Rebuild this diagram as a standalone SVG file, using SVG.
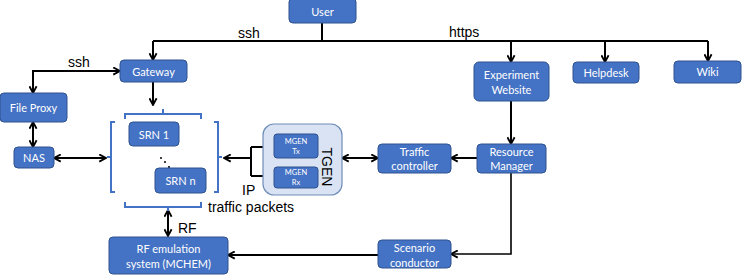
<svg xmlns="http://www.w3.org/2000/svg" width="742" height="277" viewBox="0 0 742 277">
  <defs>
    <marker id="arrow" viewBox="0 0 10 10" refX="9" refY="5" markerWidth="9" markerHeight="9" markerUnits="userSpaceOnUse" orient="auto-start-reverse">
      <path d="M1.5,1 L9,5 L1.5,9" fill="none" stroke="#000" stroke-width="2"/>
    </marker>
    <style>
      .box { fill: #4472C4; stroke: #2F528F; stroke-width: 1; }
      .sub { fill: #4472C4; stroke: #2F528F; stroke-width: 1; }
      .tgen { fill: #DAE3F3; stroke: #6F8DB9; stroke-width: 1.2; }
      .lbl { font-family: Lato, "Open Sans", sans-serif; font-size: 11px; fill: #fff; text-anchor: middle; dominant-baseline: central; }
      .small { font-family: Lato, "Open Sans", sans-serif; font-size: 7.5px; fill: #fff; text-anchor: middle; dominant-baseline: central; }
      .note { font-family: "Liberation Sans", Arial, sans-serif; font-size: 14px; fill: #000; }
      .wire { fill: none; stroke: #000; stroke-width: 2; }
      .thin { fill: none; stroke: #000; stroke-width: 1.6; }
      .brk { fill: none; stroke: #4472C4; stroke-width: 2; }
    </style>
  </defs>

  <!-- connectors -->
  <g id="connectors">
    <path class="wire" d="M322,23 V41"/>
    <path class="wire" d="M153,41 H708"/>
    <path class="wire" d="M153,41 V60" marker-end="url(#arrow)"/>
    <path class="wire" d="M511,41 V62" marker-end="url(#arrow)"/>
    <path class="wire" d="M605,41 V62" marker-end="url(#arrow)"/>
    <path class="wire" d="M708,41 V61" marker-end="url(#arrow)"/>
    <path class="wire" d="M120,71 H33 V93" marker-start="url(#arrow)" marker-end="url(#arrow)"/>
    <path class="wire" d="M153,82 V105" marker-end="url(#arrow)"/>
    <path class="wire" d="M33,122 V147" marker-start="url(#arrow)" marker-end="url(#arrow)"/>
    <path class="wire" d="M54,158 H106" marker-start="url(#arrow)" marker-end="url(#arrow)"/>
    <path class="wire" d="M251,158 H224" marker-end="url(#arrow)"/>
    <path class="wire" d="M251,147 V176"/>
    <path class="wire" d="M251,147 H274" marker-end="url(#arrow)"/>
    <path class="wire" d="M251,176 H274" marker-end="url(#arrow)"/>
    <path class="wire" d="M342,158 H378" marker-start="url(#arrow)" marker-end="url(#arrow)"/>
    <path class="wire" d="M477,158 H451" marker-end="url(#arrow)"/>
    <path class="wire" d="M511,101 V144" marker-end="url(#arrow)"/>
    <path class="thin" d="M511,173 V254 H451" marker-end="url(#arrow)"/>
    <path class="wire" d="M378,255 H228" marker-end="url(#arrow)"/>
    <path class="wire" d="M168,210 V236" marker-start="url(#arrow)" marker-end="url(#arrow)"/>
  </g>

  <!-- connector labels -->
  <g id="labels">
    <text class="note" x="238" y="38">ssh</text>
    <text class="note" x="449" y="37">https</text>
    <text class="note" x="68" y="67">ssh</text>
    <text class="note" x="242" y="195">IP</text>
    <text class="note" x="208" y="212" font-size="13.5">traffic packets</text>
    <text class="note" x="178" y="233">RF</text>
  </g>

  <g id="user">
    <rect class="box" x="289" y="-2" width="67" height="25" rx="4"/>
    <text class="lbl" x="322.5" y="11">User</text>
  </g>

  <g id="gateway">
    <rect class="box" x="120" y="60" width="67" height="22" rx="4"/>
    <text class="lbl" x="153.5" y="71">Gateway</text>
  </g>

  <g id="file-proxy">
    <rect class="box" x="0" y="93" width="67" height="29" rx="4"/>
    <text class="lbl" x="33.5" y="107.5">File Proxy</text>
  </g>

  <g id="nas">
    <rect class="box" x="14" y="147" width="40" height="21" rx="4"/>
    <text class="lbl" x="34" y="157.5">NAS</text>
  </g>

  <!-- SRN cluster with bracket outline -->
  <g id="srn-cluster">
    <path class="brk" d="M125,119 V114 H201 V119 M163,114 V109"/>
    <path class="brk" d="M115,122 H111 V192 H115 M111,157 H107"/>
    <path class="brk" d="M214,122 H218 V192 H214 M218,157 H222"/>
    <path class="brk" d="M125,202 V207 H201 V202 M168,207 V211"/>
    <circle cx="161" cy="158" r="1" fill="#000"/>
    <circle cx="165" cy="162" r="1" fill="#000"/>
    <circle cx="169" cy="167" r="1.1" fill="#000"/>
  </g>

  <g id="srn-1">
    <rect class="box" x="129" y="122" width="50" height="24" rx="4"/>
    <text class="lbl" x="154" y="134">SRN 1</text>
  </g>

  <g id="srn-n">
    <rect class="box" x="155" y="168" width="51" height="25" rx="4"/>
    <text class="lbl" x="180.5" y="180.5">SRN n</text>
  </g>

  <g id="tgen">
    <rect class="tgen" x="263" y="124" width="79" height="71" rx="11"/>
    <text font-family="'Liberation Sans', Arial, sans-serif" font-size="14" fill="#000" text-anchor="middle" dominant-baseline="central" transform="translate(327,167) rotate(90)">TGEN</text>
  </g>

  <g id="mgen-tx">
    <rect class="sub" x="274" y="134" width="44" height="24" rx="3"/>
    <text class="small" x="296" y="141">MGEN</text>
    <text class="small" x="296" y="151" font-size="6.5">Tx</text>
  </g>

  <g id="mgen-rx">
    <rect class="sub" x="274" y="167" width="44" height="21" rx="3"/>
    <text class="small" x="296" y="172.5">MGEN</text>
    <text class="small" x="296" y="182" font-size="6.5">Rx</text>
  </g>

  <g id="traffic-controller">
    <rect class="box" x="378" y="144" width="73" height="29" rx="4"/>
    <text class="lbl" x="414.5" y="151.5">Traffic</text>
    <text class="lbl" x="414.5" y="165.5">controller</text>
  </g>

  <g id="resource-manager">
    <rect class="box" x="477" y="144" width="69" height="29" rx="4"/>
    <text class="lbl" x="511.5" y="151.5">Resource</text>
    <text class="lbl" x="511.5" y="165.5">Manager</text>
  </g>

  <g id="scenario-conductor">
    <rect class="box" x="378" y="240" width="73" height="28" rx="4"/>
    <text class="lbl" x="414.5" y="247">Scenario</text>
    <text class="lbl" x="414.5" y="262">conductor</text>
  </g>

  <g id="rf-emulation">
    <rect class="box" x="109" y="237" width="119" height="37" rx="4"/>
    <text class="lbl" x="168.5" y="248">RF emulation</text>
    <text class="lbl" x="168.5" y="263">system (MCHEM)</text>
  </g>

  <g id="experiment-website">
    <rect class="box" x="474" y="62" width="75" height="39" rx="5"/>
    <text class="lbl" x="511.5" y="74">Experiment</text>
    <text class="lbl" x="511.5" y="89">Website</text>
  </g>

  <g id="helpdesk">
    <rect class="box" x="573" y="62" width="66" height="21" rx="4"/>
    <text class="lbl" x="606" y="72">Helpdesk</text>
  </g>

  <g id="wiki">
    <rect class="box" x="674" y="61" width="67" height="22" rx="4"/>
    <text class="lbl" x="707.5" y="71.5">Wiki</text>
  </g>
</svg>
